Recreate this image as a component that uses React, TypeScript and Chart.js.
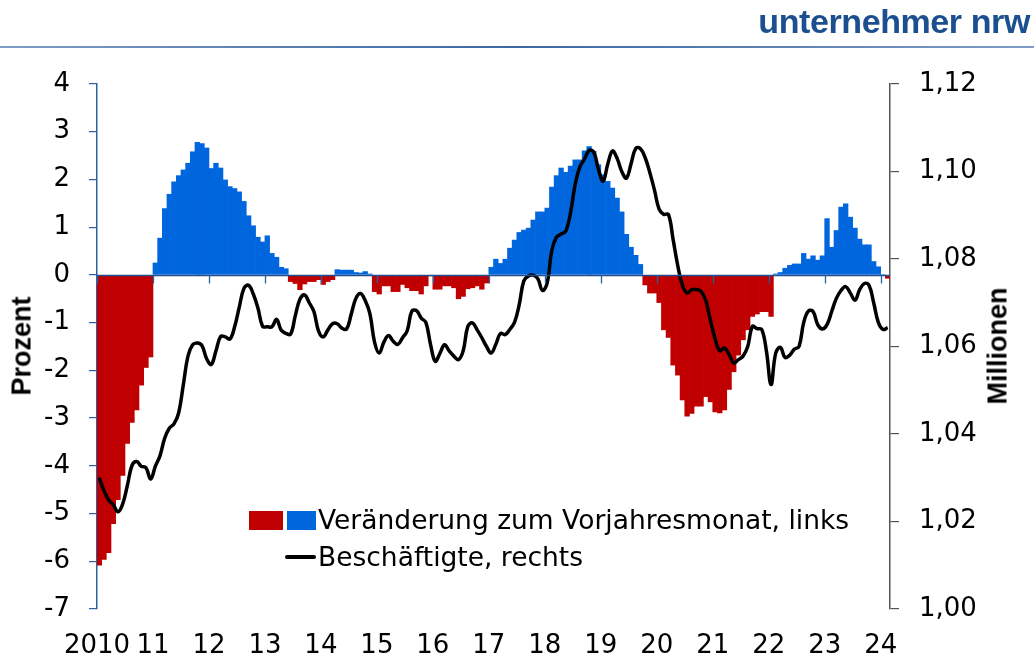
import React, { useEffect, useRef } from 'react';
import { Chart, registerables } from 'chart.js';

Chart.register(...registerables);

// Year tick labels (one per January, 2010 … 2024)
const YEAR_LABELS = ['2010', '11', '12', '13', '14', '15', '16', '17', '18', '19', '20', '21', '22', '23', '24'];

// Veränderung zum Vorjahresmonat, in Prozent (links), monthly
const CHANGE_2010 = [-6.08, -5.96, -5.82, -5.21, -4.71, -4.2, -3.53, -3.09, -2.83, -2.31, -1.94, -1.72];
const CHANGE_2011 = [0.25, 0.77, 1.39, 1.69, 1.95, 2.08, 2.2, 2.34, 2.58, 2.78, 2.75, 2.66];
const CHANGE_2012 = [2.23, 2.34, 2.24, 1.99, 1.85, 1.81, 1.74, 1.54, 1.24, 1.03, 0.79, 0.69];
const CHANGE_2013 = [0.82, 0.45, 0.37, 0.16, 0.13, -0.14, -0.18, -0.31, -0.19, -0.14, -0.14, -0.1];
const CHANGE_2014 = [-0.2, -0.14, -0.1, 0.11, 0.1, 0.1, 0.1, 0.05, 0.04, 0.07, 0.02, -0.35];
const CHANGE_2015 = [-0.4, -0.23, -0.23, -0.35, -0.35, -0.2, -0.27, -0.33, -0.33, -0.4, -0.23, -0.02];
const CHANGE_2016 = [-0.3, -0.3, -0.23, -0.23, -0.27, -0.5, -0.45, -0.29, -0.27, -0.23, -0.3, -0.17];
const CHANGE_2017 = [0.16, 0.33, 0.24, 0.33, 0.56, 0.73, 0.89, 0.94, 0.98, 1.15, 1.32, 1.32];
const CHANGE_2018 = [1.4, 1.84, 2.08, 2.24, 2.15, 2.28, 2.41, 2.41, 2.6, 2.69, 2.59, 2.31];
const CHANGE_2019 = [2.1, 1.96, 1.82, 1.61, 1.32, 0.85, 0.58, 0.41, 0.22, -0.21, -0.38, -0.38];
const CHANGE_2020 = [-0.58, -1.15, -1.31, -1.89, -2.1, -2.62, -2.96, -2.9, -2.75, -2.75, -2.55, -2.66];
const CHANGE_2021 = [-2.87, -2.89, -2.83, -2.4, -2.03, -1.68, -1.36, -1.15, -0.87, -0.82, -0.77, -0.77];
const CHANGE_2022 = [-0.87, 0.02, 0.05, 0.14, 0.2, 0.23, 0.23, 0.45, 0.33, 0.4, 0.31, 0.4];
const CHANGE_2023 = [1.18, 0.58, 0.93, 1.42, 1.49, 1.21, 0.98, 0.75, 0.63, 0.63, 0.28, 0.17];
const CHANGE_2024 = [0, -0.07];

// Beschäftigte, in Millionen (rechts), monthly
const EMPLOYED_2010 = [1.03, 1.027, 1.0249, 1.0238, 1.0222, 1.024, 1.0282, 1.0328, 1.0337, 1.0326, 1.0323, 1.0297];
const EMPLOYED_2011 = [1.0326, 1.035, 1.039, 1.0413, 1.0423, 1.0448, 1.0512, 1.0578, 1.0604, 1.0608, 1.0602, 1.0572];
const EMPLOYED_2012 = [1.0559, 1.059, 1.0623, 1.0622, 1.0617, 1.0645, 1.069, 1.0733, 1.074, 1.072, 1.0688, 1.0646];
const EMPLOYED_2013 = [1.0645, 1.0645, 1.0662, 1.0637, 1.063, 1.0628, 1.067, 1.0708, 1.0718, 1.07, 1.068, 1.0635];
const EMPLOYED_2014 = [1.0622, 1.0638, 1.0652, 1.0652, 1.0642, 1.064, 1.0674, 1.071, 1.0721, 1.0705, 1.0675, 1.061];
const EMPLOYED_2015 = [1.0585, 1.061, 1.0625, 1.0612, 1.0605, 1.062, 1.0636, 1.0681, 1.0682, 1.0665, 1.0655, 1.0605];
const EMPLOYED_2016 = [1.0566, 1.0584, 1.0604, 1.059, 1.0578, 1.057, 1.059, 1.0646, 1.0654, 1.0638, 1.062, 1.06];
const EMPLOYED_2017 = [1.0585, 1.0605, 1.063, 1.0627, 1.0639, 1.0655, 1.0695, 1.075, 1.0761, 1.0763, 1.0755, 1.0728];
const EMPLOYED_2018 = [1.0745, 1.082, 1.085, 1.0857, 1.0864, 1.0905, 1.097, 1.101, 1.1028, 1.1048, 1.1044, 1.1005];
const EMPLOYED_2019 = [1.0978, 1.1017, 1.1047, 1.103, 1.1, 1.0985, 1.1018, 1.1053, 1.1052, 1.1032, 1.0998, 1.0958];
const EMPLOYED_2020 = [1.0914, 1.0902, 1.0902, 1.0845, 1.0785, 1.074, 1.0722, 1.073, 1.073, 1.0726, 1.0705, 1.066];
const EMPLOYED_2021 = [1.0618, 1.059, 1.0597, 1.0582, 1.0562, 1.057, 1.0578, 1.06, 1.0646, 1.0641, 1.0639, 1.059];
const EMPLOYED_2022 = [1.0513, 1.0585, 1.0598, 1.0575, 1.058, 1.0594, 1.06, 1.0655, 1.0681, 1.068, 1.065, 1.064];
const EMPLOYED_2023 = [1.065, 1.068, 1.071, 1.0728, 1.0737, 1.0722, 1.0706, 1.073, 1.0744, 1.074, 1.07, 1.0655];
const EMPLOYED_2024 = [1.0639, 1.0643];

const CHANGE = [
  ...CHANGE_2010, ...CHANGE_2011, ...CHANGE_2012, ...CHANGE_2013, ...CHANGE_2014,
  ...CHANGE_2015, ...CHANGE_2016, ...CHANGE_2017, ...CHANGE_2018, ...CHANGE_2019,
  ...CHANGE_2020, ...CHANGE_2021, ...CHANGE_2022, ...CHANGE_2023, ...CHANGE_2024,
];
const EMPLOYED = [
  ...EMPLOYED_2010, ...EMPLOYED_2011, ...EMPLOYED_2012, ...EMPLOYED_2013, ...EMPLOYED_2014,
  ...EMPLOYED_2015, ...EMPLOYED_2016, ...EMPLOYED_2017, ...EMPLOYED_2018, ...EMPLOYED_2019,
  ...EMPLOYED_2020, ...EMPLOYED_2021, ...EMPLOYED_2022, ...EMPLOYED_2023, ...EMPLOYED_2024,
];

const RED = '#C00000';
const BLUE = '#0066DD';
const AXIS_BLUE = '#2A62A0';
const ZERO_BLUE = '#1F4E8C';
const TICK_FONT = { family: "'DejaVu Sans', Verdana, sans-serif", size: 26 };
const TEXT_FONT = "'DejaVu Sans', Verdana, sans-serif";
const TITLE_FONT = "'Liberation Sans', Arial, sans-serif";

// Draws the category axis line on the zero level of the left scale, with year tick marks
const zeroAxisPlugin = {
  id: 'zeroAxis',
  afterDatasetsDraw(chart: any) {
    const { ctx, chartArea, scales } = chart;
    const xs = scales.x;
    const y0 = Math.round(scales.y.getPixelForValue(0)) + 0.5;
    ctx.save();
    ctx.strokeStyle = ZERO_BLUE;
    ctx.lineWidth = 1.5;
    ctx.beginPath();
    ctx.moveTo(chartArea.left, y0);
    ctx.lineTo(chartArea.right, y0);
    ctx.stroke();
    ctx.strokeStyle = AXIS_BLUE;
    ctx.lineWidth = 1.3;
    xs.ticks.forEach((t: any) => {
      const px = Math.round(xs.getPixelForValue(t.value)) + 0.5;
      ctx.beginPath();
      ctx.moveTo(px, y0);
      ctx.lineTo(px, y0 + 8);
      ctx.stroke();
    });
    ctx.restore();
  },
};

export default function App() {
  const canvasRef = useRef<HTMLCanvasElement>(null);

  useEffect(() => {
    document.body.style.margin = '0';
    const canvas = canvasRef.current;
    if (!canvas) return;
    const monthCount = CHANGE.length;
    const yearTicks = () => YEAR_LABELS.map((_, k) => ({ value: k * 12 }));

    const chart = new Chart(canvas, {
      type: 'bar',
      data: {
        datasets: [
          {
            type: 'line',
            label: 'Beschäftigte, rechts',
            data: EMPLOYED.map((v, i) => ({ x: i + 0.5, y: v })),
            xAxisID: 'x',
            yAxisID: 'y1',
            borderColor: '#000000',
            borderWidth: 3.5,
            pointRadius: 0,
            tension: 0.4,
            fill: false,
            order: 0,
          } as any,
          {
            type: 'bar',
            label: 'Veränderung zum Vorjahresmonat, links',
            data: CHANGE.map((v, i) => ({ x: i + 0.5, y: v })),
            xAxisID: 'x',
            yAxisID: 'y',
            backgroundColor: (ctx: any) => ((ctx.raw && ctx.raw.y < 0) ? RED : BLUE),
            borderWidth: 0,
            barPercentage: 1,
            categoryPercentage: 1,
            order: 1,
          } as any,
        ],
      },
      options: {
        responsive: false,
        maintainAspectRatio: false,
        animation: false,
        layout: { padding: { top: 84, left: 0, right: 0, bottom: 0 } },
        plugins: { legend: { display: false }, tooltip: { enabled: false } },
        scales: {
          x: {
            type: 'linear',
            position: 'bottom',
            offset: false,
            min: 0,
            max: monthCount,
            afterBuildTicks: (s: any) => { s.ticks = yearTicks(); },
            afterFit: (s: any) => { s.height = 50; },
            ticks: {
              autoSkip: false,
              maxRotation: 0,
              minRotation: 0,
              padding: 22,
              color: '#000000',
              font: TICK_FONT,
              callback: (v: any) => YEAR_LABELS[Math.round(Number(v) / 12)],
            },
            grid: { display: false, drawTicks: false, offset: false },
            border: { display: false },
          },
          y: {
            type: 'linear',
            position: 'left',
            min: -7,
            max: 4,
            afterFit: (s: any) => { s.width = 97; },
            ticks: {
              stepSize: 1,
              padding: 19,
              color: '#000000',
              font: TICK_FONT,
              callback: (v: any) => String(v),
            },
            grid: { drawOnChartArea: false, drawTicks: true, tickLength: 8, color: AXIS_BLUE, lineWidth: 1.2 },
            border: { display: true, color: AXIS_BLUE, width: 1.5 },
          },
          y1: {
            type: 'linear',
            position: 'right',
            min: 1.0,
            max: 1.12,
            afterFit: (s: any) => { s.width = 144; },
            ticks: {
              stepSize: 0.02,
              padding: 20,
              color: '#000000',
              font: TICK_FONT,
              callback: (v: any) => Number(v).toFixed(2).replace('.', ','),
            },
            grid: { drawOnChartArea: false, drawTicks: true, tickLength: 9, color: '#555555', lineWidth: 1.2 },
            border: { display: true, color: '#555555', width: 1.5 },
          },
        },
      } as any,
      plugins: [zeroAxisPlugin],
    });
    return () => chart.destroy();
  }, []);

  return (
    <div style={{ position: 'relative', width: 1034, height: 659, background: '#ffffff', overflow: 'hidden' }}>
      <canvas ref={canvasRef} width={1034} height={659} style={{ position: 'absolute', left: 0, top: 0, width: 1034, height: 659 }} />
      <div
        style={{
          position: 'absolute', right: 4, top: 1, fontFamily: TITLE_FONT, fontWeight: 700,
          fontSize: 34, color: '#1B4F8F', letterSpacing: -0.4, lineHeight: '40px', whiteSpace: 'nowrap',
        }}
      >
        unternehmer nrw
      </div>
      <div
        style={{
          position: 'absolute', left: 0, top: 46, width: 1034, height: 2,
          background: 'linear-gradient(to right, #7f9cc4, #3d67a3 50%, #7f9cc4)',
        }}
      />
      <div
        style={{
          position: 'absolute', left: 22, top: 346, transform: 'translate(-50%, -50%) rotate(-90deg)',
          fontFamily: TITLE_FONT, fontWeight: 700, fontSize: 27, color: '#000', whiteSpace: 'nowrap',
        }}
      >
        Prozent
      </div>
      <div
        style={{
          position: 'absolute', left: 998, top: 346, transform: 'translate(-50%, -50%) rotate(-90deg)',
          fontFamily: TITLE_FONT, fontWeight: 700, fontSize: 27, color: '#000', whiteSpace: 'nowrap',
        }}
      >
        Millionen
      </div>
      <div style={{ position: 'absolute', left: 249, top: 511, width: 34, height: 19, background: RED }} />
      <div style={{ position: 'absolute', left: 287, top: 511, width: 29, height: 19, background: BLUE }} />
      <div
        style={{
          position: 'absolute', left: 318, top: 504, fontFamily: TEXT_FONT, fontSize: 26.5,
          lineHeight: '32px', color: '#000', whiteSpace: 'nowrap',
        }}
      >
        Veränderung zum Vorjahresmonat, links
      </div>
      <div style={{ position: 'absolute', left: 285, top: 555, width: 31, height: 4, background: '#000', borderRadius: 2 }} />
      <div
        style={{
          position: 'absolute', left: 318, top: 541, fontFamily: TEXT_FONT, fontSize: 26.5,
          lineHeight: '32px', color: '#000', whiteSpace: 'nowrap',
        }}
      >
        Beschäftigte, rechts
      </div>
    </div>
  );
}
